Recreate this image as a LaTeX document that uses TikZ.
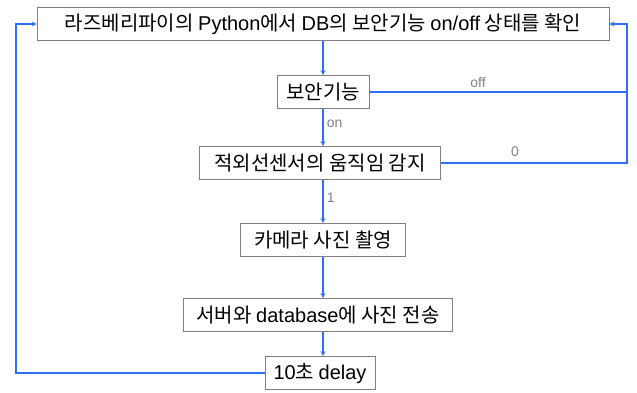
\documentclass[tikz,border=0pt]{standalone}
\usepackage{fontspec}
\setmainfont{Noto Sans CJK KR}
\newfontfamily\latin{Liberation Sans}
\usetikzlibrary{calc}

\definecolor{linkblue}{RGB}{47,110,246}
\definecolor{boxgray}{RGB}{128,128,128}
\definecolor{labelgray}{RGB}{130,130,130}

\begin{document}
\begin{tikzpicture}[>=stealth, x=1pt, y=-1pt,
	stepbox/.style={draw=boxgray,thick,fill=white,inner xsep=4pt,minimum height=33pt,
		font=\fontsize{20}{22}\selectfont},
	link/.style={->,linkblue,line width=1.2pt},
	cond/.style={labelgray,font=\latin\fontsize{14}{16}\selectfont}]

\useasboundingbox (0,0) rectangle (637,392);

\node [stepbox,minimum width=572pt] (check) at (323,24) {라즈베리파이의 {\latin Python}에서 {\latin DB}의 보안기능 {\latin on/off} 상태를 확인};
\node [stepbox,minimum width=92pt] (mode) at (323,92) {보안기능};
\node [stepbox,minimum width=241pt] (sensor) at (320,163) {적외선센서의 움직임 감지};
\node [stepbox,minimum width=165pt] (camera) at (323,240) {카메라 사진 촬영};
\node [stepbox,minimum width=269pt] (upload) at (318,315) {서버와 {\latin database}에 사진 전송};
\node [stepbox,minimum width=110pt] (delay) at (320,373) {{\latin 10}초 {\latin delay}};

\coordinate (lft) at (16,24);
\coordinate (rgt) at (627,24);

\draw [link] (check.south -| mode) to (mode.north);
\draw [link] (mode.south) to node [cond,right,pos=0.4] {on} (mode.south |- sensor.north);
\draw [link] (mode.south |- sensor.south) to node [cond,right,pos=0.4] {1} (mode.south |- camera.north);
\draw [link] (mode.south |- camera.south) to (mode.south |- upload.north);
\draw [link] (mode.south |- upload.south) to (mode.south |- delay.north);

% back to the top
\draw [link] (delay.west) -| (lft) -- (check.west);
\draw [link] (sensor.east) -| (rgt) -- (check.east);
\draw [linkblue,line width=1.2pt] (mode.east) -- (mode.east -| rgt);

\node [cond,above] (offlbl) at (478,91) {off};
\node [cond,above] (zerolbl) at (515,160) {0};

\end{tikzpicture}
\end{document}
